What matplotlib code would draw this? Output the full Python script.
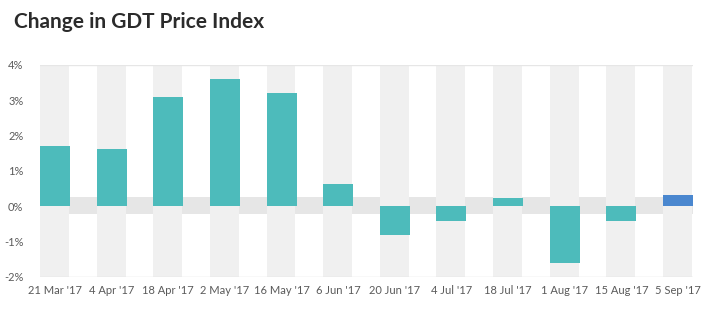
import matplotlib.pyplot as plt
import numpy as np

dates = ["21 Mar '17", "4 Apr '17", "18 Apr '17", "2 May '17", "16 May '17", "6 Jun '17",
         "20 Jun '17", "4 Jul '17", "18 Jul '17", "1 Aug '17", "15 Aug '17", "5 Sep '17"]
change = [1.71, 1.61, 3.10, 3.59, 3.20, 0.62, -0.81, -0.43, 0.22, -1.61, -0.43, 0.32]
y_ticks = [-2, -1, 0, 1, 2, 3, 4]

teal = '#4dbbbb'
blue = '#4a87cf'
colors = [teal] * (len(change) - 1) + [blue]

fig = plt.figure(figsize=(7.21, 3.12), dpi=100)
ax = fig.add_axes([40 / 721, (312 - 276.7) / 312, 653 / 721, 212 / 312])

x = np.arange(len(dates))
w = 0.53

# zero band, then grey columns, then bars
ax.axhspan(-0.22, 0.25, color='#e6e6e6', zorder=0, lw=0)
for xi in x:
    ax.axvspan(xi - w / 2, xi + w / 2 - 0.02, color='#f0f0f0', zorder=1, lw=0)
ax.bar(x, change, width=w, color=colors, zorder=3)

ax.set_xlim(-w / 2, len(dates) - 1 + w / 2)
ax.set_ylim(-2, 4)
ax.set_yticks(y_ticks)
ax.set_yticklabels([f'{t}%' for t in y_ticks])
ax.set_xticks(x)
ax.set_xticklabels(dates)

for s in ax.spines.values():
    s.set_visible(False)
ax.axhline(4, color='#e6e6e6', lw=1, zorder=2)
ax.axhline(-2, color='#dddddd', lw=1, zorder=2)
ax.tick_params(length=0, labelsize=8, labelcolor='#5a5a5a', pad=6)
for lab in ax.get_xticklabels() + ax.get_yticklabels():
    lab.set_family('Lato')
ax.tick_params(axis='y', pad=12)

fig.text(14 / 721, 1 - 22 / 312, 'Change in GDT Price Index', fontsize=15,
         fontweight='bold', family='Lato', color='#2b2b2b', va='center')

fig.savefig('out.png', dpi=100)
